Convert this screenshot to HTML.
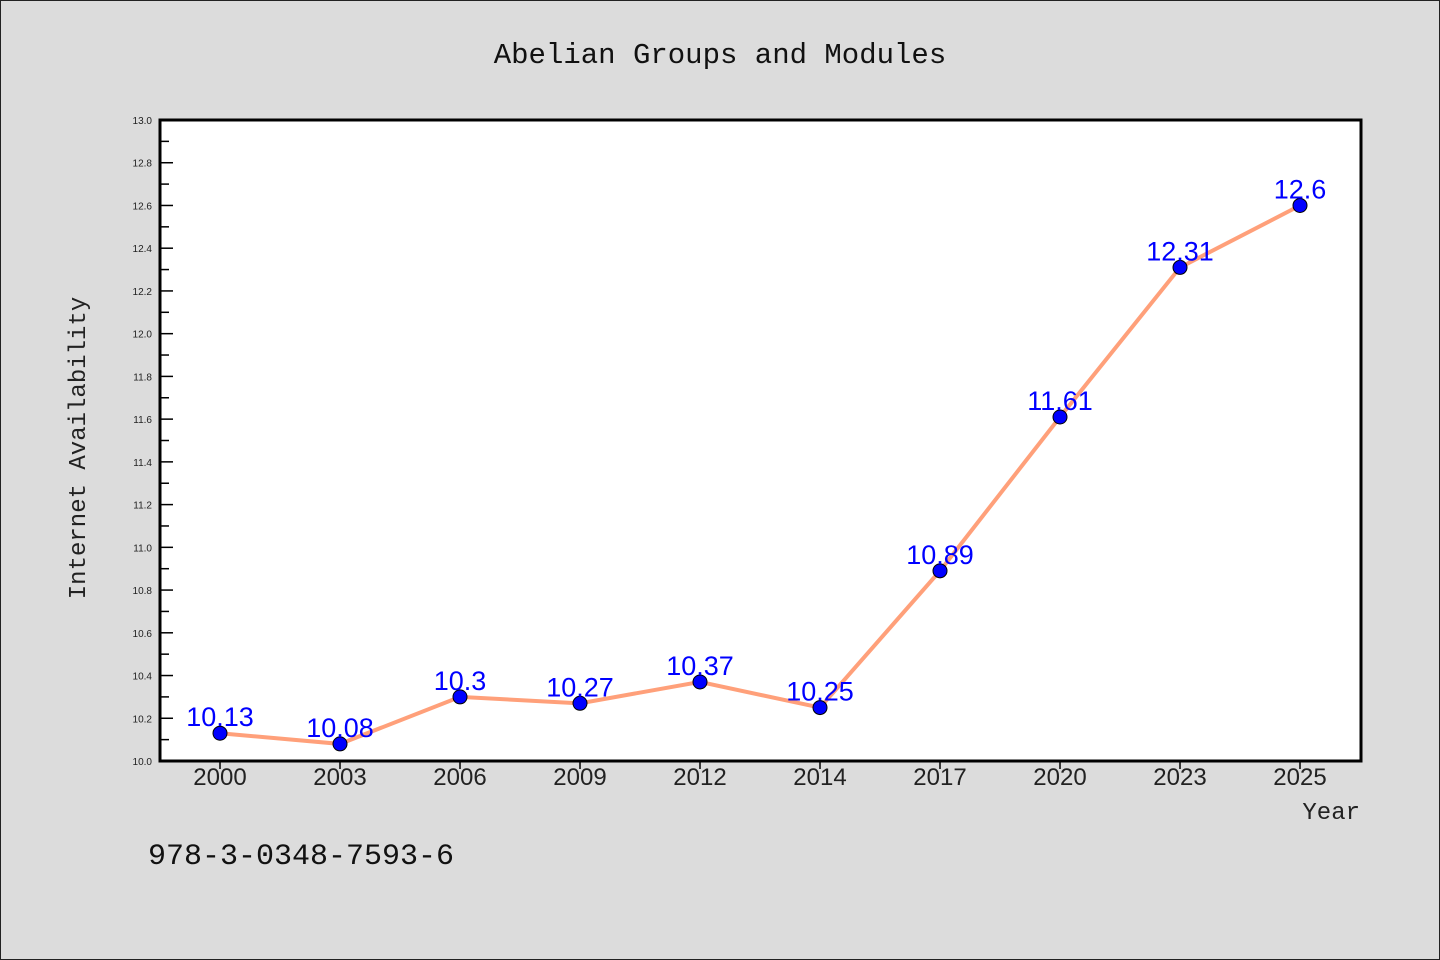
<!DOCTYPE html>
<html><head><meta charset="utf-8"><style>
html,body{margin:0;padding:0;background:#dcdcdc;}
svg{display:block;}
text{font-family:"Liberation Sans","DejaVu Sans",sans-serif;}
.mono{font-family:"Liberation Mono","DejaVu Sans Mono",monospace;}
</style></head><body>
<svg id="chart" width="1440" height="960" xmlns="http://www.w3.org/2000/svg">
<rect x="0.5" y="0.5" width="1439" height="959" fill="#dcdcdc" stroke="#222"/>
<text x="720" y="63" text-anchor="middle" font-size="29" fill="#111" class="mono">Abelian Groups and Modules</text>
<rect x="160" y="120" width="1201" height="641" fill="#fff"/>
<g id="axes"></g>
<g id="marks"></g>
<rect x="160" y="120" width="1201" height="641" fill="none" stroke="#000" stroke-width="3"/>
<text transform="translate(85,448) rotate(-90)" text-anchor="middle" font-size="24" fill="#222" class="mono">Internet Availability</text>
<text x="1360" y="819" text-anchor="end" font-size="24" fill="#222" class="mono">Year</text>
<text x="148" y="864" font-size="30" fill="#111" class="mono">978-3-0348-7593-6</text>
</svg>
<script>
const categories=["2000","2003","2006","2009","2012","2014","2017","2020","2023","2025"];
const values=[10.13,10.08,10.3,10.27,10.37,10.25,10.89,11.61,12.31,12.6];
const labels=["10.13","10.08","10.3","10.27","10.37","10.25","10.89","11.61","12.31","12.6"];
const yTicks=[10.0,10.2,10.4,10.6,10.8,11.0,11.2,11.4,11.6,11.8,12.0,12.2,12.4,12.6,12.8,13.0];
const NS="http://www.w3.org/2000/svg";
const L=160,R=1361,T=120,B=761,yMin=10,yMax=13;
function x(i){return 220+i*(1300-220)/(categories.length-1);}
function y(v){return B-(v-yMin)/(yMax-yMin)*(B-T);}
function mk(tag,a,p){const e=document.createElementNS(NS,tag);for(const k in a)e.setAttribute(k,a[k]);p.appendChild(e);return e;}
const axes=document.getElementById('axes'),marks=document.getElementById('marks');
yTicks.forEach((v,i)=>{
 const t=mk('line',{x1:L,x2:L+13,y1:y(v),y2:y(v),stroke:'#000','stroke-width':1.5},axes);
 
 
 if(i<yTicks.length-1){const m=mk('line',{x1:L,x2:L+9,y1:y(v+0.1),y2:y(v+0.1),stroke:'#000','stroke-width':1.5},axes);
 
 }
 const lb=mk('text',{x:L-8,y:y(v)+4,'text-anchor':'end','font-size':10,fill:'#222'},axes);
 lb.textContent=v.toFixed(1);
 
 
});
categories.forEach((c,i)=>{
 const t=mk('line',{x1:x(i),x2:x(i),y1:B,y2:B+8,stroke:'#000','stroke-width':1.5},axes);
 
 
 const lb=mk('text',{x:x(i),y:B+24,'text-anchor':'middle','font-size':24,fill:'#222'},axes);
 lb.textContent=c;
 
 
});
const line=mk('polyline',{points:values.map((v,i)=>x(i)+','+y(v)).join(' '),fill:'none',stroke:'#ffa07a','stroke-width':4},marks);


values.forEach((v,i)=>{
 const c=mk('circle',{cx:x(i),cy:y(v),r:7,fill:'#0000ff',stroke:'#000','stroke-width':1},marks);
 
 
 const t=mk('text',{x:x(i),y:y(v)-7,'text-anchor':'middle','font-size':27,fill:'#0000ff'},marks);
 t.textContent=labels[i];
 
 
});
</script>
</body></html>
